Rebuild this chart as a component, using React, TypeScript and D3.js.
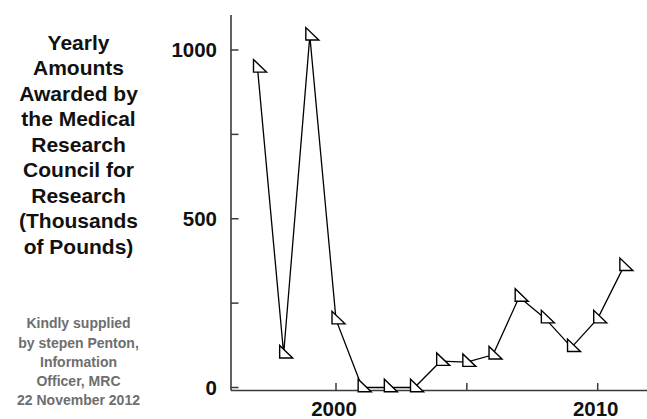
import React from "react";
import * as d3 from "d3";

const years = [1997, 1998, 1999, 2000, 2001, 2002, 2003, 2004, 2005, 2006, 2007, 2008, 2009, 2010, 2011];
const amounts = [947, 100, 1042, 201, 0, 0, 0, 78, 75, 97, 268, 204, 119, 204, 359];
const yTicks = [0, 250, 500, 750, 1000];
const yTickLabels = [0, 500, 1000];
const xTicks = [2000, 2005, 2010];
const xTickLabels = [2000, 2010];
const titleLines = [
  "Yearly",
  "Amounts",
  "Awarded by",
  "the Medical",
  "Research",
  "Council for",
  "Research",
  "(Thousands",
  "of Pounds)",
];
const creditLines = [
  "Kindly supplied",
  "by stepen Penton,",
  "Information",
  "Officer, MRC",
  "22 November 2012",
];

const W = 647;
const H = 419;
const FONT = "'Liberation Sans', Arial, Helvetica, sans-serif";

export default function App() {
  const x = d3.scaleLinear().domain([2000, 2010]).range([336, 597.7]);
  const y = d3.scaleLinear().domain([0, 1000]).range([387.5, 50]);
  const axisX = 231;
  const axisY = 390.5;
  const axisColor = "#3a3a3a";

  const pts = years.map((yr, i) => [x(yr), y(amounts[i])] as [number, number]);
  const line = d3.line()(pts) || "";

  const tri = (px: number, py: number) =>
    `M${px - 4},${py - 8.3}L${px - 4},${py + 4.2}L${px + 9},${py + 4.2}Z`;

  return (
    <svg
      width={W}
      height={H}
      style={{ position: "absolute", left: 0, top: 0, background: "#fff" }}
      fontFamily={FONT}
    >
      <rect width={W} height={H} fill="#fff" />
      {/* axes */}
      <line x1={axisX} x2={axisX} y1={15} y2={axisY} stroke={axisColor} strokeWidth={1.6} />
      <line x1={axisX} x2={W} y1={axisY} y2={axisY} stroke={axisColor} strokeWidth={1.6} />
      {yTicks.map((t) => (
        <line key={"yt" + t} x1={axisX} x2={axisX + 7.5} y1={y(t)} y2={y(t)} stroke={axisColor} strokeWidth={1.5} />
      ))}
      {xTicks.map((t) => (
        <line key={"xt" + t} x1={x(t)} x2={x(t)} y1={axisY} y2={axisY - 7.5} stroke={axisColor} strokeWidth={1.5} />
      ))}
      {yTickLabels.map((t) => (
        <text
          key={"yl" + t}
          x={217}
          y={y(t)}
          dy="0.36em"
          textAnchor="end"
          fontSize={20.5}
          fontWeight="bold"
          fill="#111"
        >
          {t}
        </text>
      ))}
      {xTickLabels.map((t) => (
        <text
          key={"xl" + t}
          x={x(t) - 2}
          y={416}
          textAnchor="middle"
          fontSize={20.5}
          fontWeight="bold"
          fill="#111"
        >
          {t}
        </text>
      ))}
      {/* data line */}
      <path d={line} fill="none" stroke="#000" strokeWidth={1.3} />
      {pts.map(([px, py], i) => (
        <path key={"m" + i} d={tri(px, py)} fill="#fff" stroke="#000" strokeWidth={1.4} strokeLinejoin="miter" />
      ))}
      {/* title */}
      {titleLines.map((s, i) => (
        <text
          key={"t" + i}
          x={78.5}
          y={50 + i * 25.45}
          textAnchor="middle"
          fontSize={21}
          fontWeight="bold"
          fill="#111"
        >
          {s}
        </text>
      ))}
      {creditLines.map((s, i) => (
        <text
          key={"c" + i}
          x={78.5}
          y={328.3 + i * 19.2}
          textAnchor="middle"
          fontSize={14}
          fontWeight="bold"
          fill="#6e6e6e"
        >
          {s}
        </text>
      ))}
    </svg>
  );
}
